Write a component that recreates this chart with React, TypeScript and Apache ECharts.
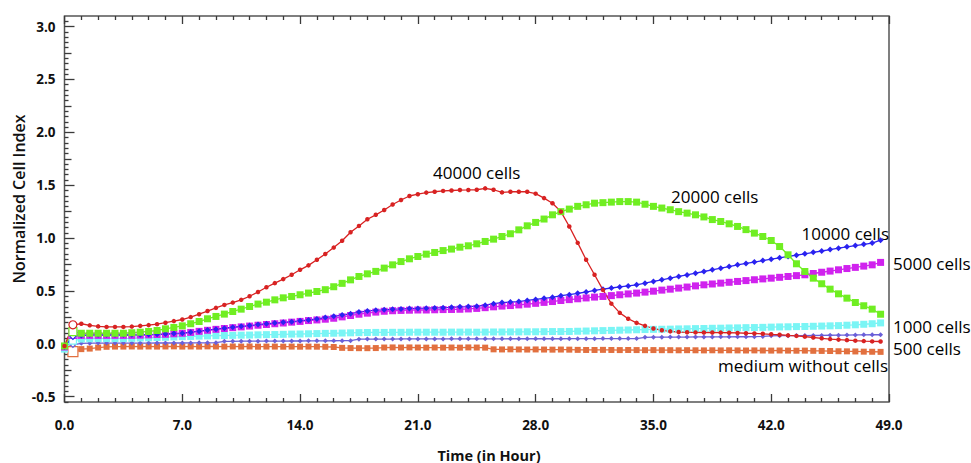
import React, { useEffect, useRef } from 'react';
import * as echarts from 'echarts';

const times = [
  0, 0.5, 1, 1.5, 2, 2.5, 3, 3.5, 4, 4.5,
  5, 5.5, 6, 6.5, 7, 7.5, 8, 8.5, 9, 9.5,
  10, 10.5, 11, 11.5, 12, 12.5, 13, 13.5, 14, 14.5,
  15, 15.5, 16, 16.5, 17, 17.5, 18, 18.5, 19, 19.5,
  20, 20.5, 21, 21.5, 22, 22.5, 23, 23.5, 24, 24.5,
  25, 25.5, 26, 26.5, 27, 27.5, 28, 28.5, 29, 29.5,
  30, 30.5, 31, 31.5, 32, 32.5, 33, 33.5, 34, 34.5,
  35, 35.5, 36, 36.5, 37, 37.5, 38, 38.5, 39, 39.5,
  40, 40.5, 41, 41.5, 42, 42.5, 43, 43.5, 44, 44.5,
  45, 45.5, 46, 46.5, 47, 47.5, 48, 48.5,
];

const cells40000 = [
  -0.02, 0.18, 0.19, 0.175, 0.165, 0.16, 0.16, 0.16, 0.163, 0.17,
  0.177, 0.186, 0.2, 0.215, 0.23, 0.253, 0.28, 0.31, 0.34, 0.368,
  0.39, 0.416, 0.45, 0.49, 0.535, 0.574, 0.612, 0.653, 0.7, 0.742,
  0.795, 0.85, 0.91, 0.975, 1.055, 1.115, 1.178, 1.22, 1.265, 1.318,
  1.36, 1.398, 1.415, 1.43, 1.438, 1.446, 1.45, 1.454, 1.455, 1.457,
  1.47, 1.457, 1.432, 1.438, 1.438, 1.438, 1.42, 1.378, 1.33, 1.25,
  1.11, 0.955, 0.795, 0.653, 0.51, 0.38, 0.293, 0.237, 0.198, 0.17,
  0.145, 0.128, 0.118, 0.112, 0.109, 0.108, 0.107, 0.107, 0.106, 0.105,
  0.103, 0.1, 0.098, 0.095, 0.09, 0.086, 0.08, 0.075, 0.068, 0.06,
  0.052, 0.045, 0.04, 0.035, 0.03, 0.026, 0.023, 0.022,
];

const cells20000 = [
  -0.02, 0.115, 0.1, 0.1, 0.1, 0.1, 0.1, 0.1, 0.105, 0.11,
  0.117, 0.126, 0.142, 0.155, 0.17, 0.19, 0.211, 0.237, 0.259, 0.281,
  0.306, 0.328, 0.353, 0.376, 0.394, 0.416, 0.435, 0.448, 0.464, 0.48,
  0.495, 0.512, 0.54, 0.572, 0.605, 0.637, 0.662, 0.685, 0.716, 0.747,
  0.778, 0.804, 0.826, 0.848, 0.864, 0.882, 0.896, 0.914, 0.927, 0.946,
  0.968, 0.99, 1.015, 1.041, 1.078, 1.116, 1.148, 1.18, 1.22, 1.25,
  1.274, 1.3, 1.315, 1.33, 1.335, 1.34, 1.345, 1.345, 1.34, 1.32,
  1.3, 1.284, 1.268, 1.25, 1.236, 1.22, 1.2, 1.175, 1.157, 1.135,
  1.11, 1.08, 1.047, 1.015, 0.977, 0.92, 0.842, 0.757, 0.684, 0.621,
  0.568, 0.517, 0.473, 0.432, 0.391, 0.36, 0.328, 0.28,
];

const cells10000 = [
  -0.03, 0.07, 0.08, 0.085, 0.085, 0.085, 0.085, 0.085, 0.085, 0.085,
  0.088, 0.09, 0.093, 0.097, 0.1, 0.11, 0.12, 0.13, 0.139, 0.148,
  0.158, 0.166, 0.173, 0.182, 0.19, 0.196, 0.203, 0.21, 0.218, 0.226,
  0.235, 0.248, 0.26, 0.272, 0.285, 0.3, 0.31, 0.318, 0.322, 0.328,
  0.33, 0.333, 0.335, 0.337, 0.34, 0.342, 0.345, 0.35, 0.352, 0.356,
  0.365, 0.38, 0.39, 0.395, 0.4, 0.41, 0.42, 0.43, 0.44, 0.455,
  0.465, 0.478, 0.49, 0.505, 0.517, 0.528, 0.538, 0.548, 0.558, 0.574,
  0.59, 0.605, 0.621, 0.637, 0.652, 0.668, 0.684, 0.7, 0.715, 0.731,
  0.747, 0.76, 0.773, 0.787, 0.8, 0.813, 0.826, 0.838, 0.851, 0.865,
  0.878, 0.891, 0.905, 0.917, 0.929, 0.941, 0.953, 0.98,
];

const cells5000 = [
  -0.03, 0.09, 0.08, 0.08, 0.08, 0.08, 0.08, 0.08, 0.08, 0.082,
  0.085, 0.088, 0.09, 0.095, 0.1, 0.108, 0.118, 0.128, 0.137, 0.145,
  0.153, 0.16, 0.168, 0.176, 0.183, 0.19, 0.197, 0.205, 0.212, 0.22,
  0.226, 0.233, 0.242, 0.255, 0.268, 0.28, 0.29, 0.3, 0.308, 0.313,
  0.316, 0.318, 0.32, 0.32, 0.322, 0.324, 0.325, 0.327, 0.33, 0.335,
  0.342, 0.35, 0.357, 0.362, 0.368, 0.375, 0.383, 0.392, 0.4, 0.41,
  0.418, 0.426, 0.434, 0.442, 0.448, 0.456, 0.464, 0.472, 0.48, 0.489,
  0.498, 0.508, 0.517, 0.527, 0.537, 0.548, 0.558, 0.566, 0.574, 0.582,
  0.59, 0.598, 0.606, 0.614, 0.621, 0.629, 0.637, 0.645, 0.653, 0.665,
  0.677, 0.688, 0.7, 0.712, 0.723, 0.735, 0.747, 0.77,
];

const cells1000 = [
  -0.05, 0.03, 0.045, 0.048, 0.05, 0.05, 0.05, 0.05, 0.052, 0.055,
  0.057, 0.06, 0.062, 0.065, 0.068, 0.07, 0.073, 0.075, 0.077, 0.079,
  0.08, 0.082, 0.083, 0.085, 0.087, 0.088, 0.09, 0.092, 0.093, 0.095,
  0.097, 0.099, 0.1, 0.102, 0.104, 0.106, 0.107, 0.108, 0.108, 0.109,
  0.109, 0.11, 0.11, 0.11, 0.11, 0.11, 0.111, 0.111, 0.111, 0.11,
  0.111, 0.112, 0.112, 0.113, 0.113, 0.114, 0.114, 0.115, 0.116, 0.116,
  0.117, 0.119, 0.121, 0.123, 0.125, 0.127, 0.129, 0.131, 0.133, 0.135,
  0.137, 0.138, 0.139, 0.141, 0.142, 0.144, 0.145, 0.147, 0.148, 0.15,
  0.151, 0.153, 0.154, 0.156, 0.158, 0.16, 0.161, 0.163, 0.164, 0.166,
  0.168, 0.17, 0.172, 0.176, 0.18, 0.185, 0.19, 0.198,
];

const cells500 = [
  -0.04, -0.01, 0.005, 0.006, 0.007, 0.007, 0.007, 0.007, 0.007, 0.007,
  0.007, 0.008, 0.008, 0.008, 0.008, 0.009, 0.01, 0.01, 0.011, 0.024,
  0.024, 0.025, 0.025, 0.025, 0.026, 0.026, 0.026, 0.027, 0.027, 0.028,
  0.028, 0.028, 0.029, 0.03, 0.03, 0.044, 0.045, 0.045, 0.045, 0.045,
  0.046, 0.046, 0.046, 0.046, 0.046, 0.046, 0.047, 0.047, 0.047, 0.047,
  0.047, 0.047, 0.047, 0.048, 0.048, 0.048, 0.048, 0.048, 0.048, 0.048,
  0.049, 0.049, 0.049, 0.049, 0.05, 0.05, 0.05, 0.05, 0.05, 0.062,
  0.063, 0.063, 0.064, 0.064, 0.064, 0.065, 0.065, 0.065, 0.066, 0.066,
  0.067, 0.067, 0.068, 0.07, 0.076, 0.077, 0.077, 0.078, 0.078, 0.079,
  0.08, 0.081, 0.082, 0.083, 0.084, 0.085, 0.086, 0.086,
];

const mediumOnly = [
  -0.03, -0.073, -0.05, -0.045, -0.035, -0.028, -0.026, -0.026, -0.025, -0.026,
  -0.025, -0.026, -0.025, -0.024, -0.026, -0.025, -0.026, -0.024, -0.025, -0.026,
  -0.025, -0.026, -0.025, -0.027, -0.026, -0.026, -0.027, -0.026, -0.027, -0.026,
  -0.027, -0.028, -0.03, -0.038, -0.04, -0.041, -0.041, -0.04, -0.035, -0.034,
  -0.035, -0.034, -0.035, -0.036, -0.035, -0.036, -0.035, -0.036, -0.034, -0.035,
  -0.036, -0.052, -0.053, -0.052, -0.053, -0.054, -0.053, -0.054, -0.055, -0.054,
  -0.055, -0.057, -0.058, -0.058, -0.057, -0.058, -0.059, -0.058, -0.059, -0.06,
  -0.059, -0.06, -0.06, -0.061, -0.06, -0.061, -0.062, -0.061, -0.062, -0.061,
  -0.062, -0.063, -0.062, -0.063, -0.064, -0.063, -0.064, -0.065, -0.064, -0.066,
  -0.067, -0.068, -0.07, -0.071, -0.072, -0.074, -0.075, -0.076,
];

const xTickValues = [0, 7, 14, 21, 28, 35, 42, 49];
const yLabelValues = [-0.5, 0, 0.5, 1, 1.5, 2, 2.5, 3];
const yMidValues = [-0.25, 0.25, 0.75, 1.25, 1.75, 2.25, 2.75];
const yMinorValues = [
  -0.55, -0.45, -0.4, -0.35, -0.3, -0.2, -0.15, -0.1, -0.05,
  0.05, 0.1, 0.15, 0.2, 0.3, 0.35, 0.4, 0.45,
  0.55, 0.6, 0.65, 0.7, 0.8, 0.85, 0.9, 0.95,
  1.05, 1.1, 1.15, 1.2, 1.3, 1.35, 1.4, 1.45,
  1.55, 1.6, 1.65, 1.7, 1.8, 1.85, 1.9, 1.95,
  2.05, 2.1, 2.15, 2.2, 2.3, 2.35, 2.4, 2.45,
  2.55, 2.6, 2.65, 2.7, 2.8, 2.85, 2.9, 2.95, 3.05,
];

const seriesDefs = [
  { name: 'medium without cells', values: mediumOnly, color: '#e2703f', symbol: 'rect', size: 6, hollow: 10 },
  { name: '500 cells', values: cells500, color: '#6a5fd8', symbol: 'diamond', size: 5, hollow: 5 },
  { name: '1000 cells', values: cells1000, color: '#7af5f5', symbol: 'rect', size: 7, hollow: 7 },
  { name: '5000 cells', values: cells5000, color: '#d022ee', symbol: 'rect', size: 7, hollow: 8 },
  { name: '10000 cells', values: cells10000, color: '#2a22f0', symbol: 'diamond', size: 6, hollow: 6 },
  { name: '20000 cells', values: cells20000, color: '#70ee22', symbol: 'rect', size: 7, hollow: 8 },
  { name: '40000 cells', values: cells40000, color: '#d82222', symbol: 'circle', size: 4.5, hollow: 8 },
];

const FONT = '"Open Sans", "DejaVu Sans", sans-serif';

export default function App() {
  const ref = useRef<HTMLDivElement>(null);

  useEffect(() => {
    const chart = echarts.init(ref.current as HTMLDivElement, null, { renderer: 'svg' });

    const series = seriesDefs.map((s) => ({
      type: 'line',
      name: s.name,
      xAxisIndex: 0,
      yAxisIndex: 0,
      symbol: s.symbol,
      symbolSize: s.size,
      showAllSymbol: true,
      lineStyle: { color: s.color, width: 1.3 },
      itemStyle: { color: s.color },
      data: times.map((t, i) => {
        if (i === 1) {
          return {
            value: [t, s.values[i]],
            symbolSize: s.hollow,
            itemStyle: { color: '#ffffff', borderColor: s.color, borderWidth: 1.2 },
          };
        }
        return [t, s.values[i]];
      }),
    }));

    const tickLine = { color: '#3a3a3a', width: 1.3 };

    const yBase = {
      type: 'value',
      min: -0.55,
      max: 3.1,
      gridIndex: 0,
      position: 'left',
      axisLine: { show: false, onZero: false },
      splitLine: { show: false },
    };

    const xBase = {
      type: 'value',
      min: 0,
      max: 49,
      interval: 7,
      gridIndex: 0,
      axisLine: { show: false, onZero: false },
      splitLine: { show: false },
      axisTick: { show: true, inside: true, length: 8, lineStyle: tickLine },
      minorTick: { show: true, splitNumber: 7, length: 4, lineStyle: tickLine },
    };

    const option = {
      animation: false,
      backgroundColor: '#ffffff',
      grid: {
        left: 64.5,
        right: 82,
        top: 16,
        bottom: 61,
        show: true,
        borderColor: '#555555',
        borderWidth: 1.5,
        backgroundColor: 'transparent',
      },
      xAxis: [
        {
          ...xBase,
          position: 'bottom',
          axisLabel: {
            show: true,
            margin: 16,
            color: '#111',
            fontFamily: FONT,
            fontWeight: 'bold',
            fontSize: 13.5,
            formatter: (v: number) => v.toFixed(1),
            customValues: xTickValues,
          },
        },
        {
          ...xBase,
          position: 'top',
          axisLabel: { show: false },
        },
      ],
      yAxis: [
        {
          ...yBase,
          axisTick: { show: true, inside: true, length: 10, customValues: yLabelValues, lineStyle: tickLine },
          axisLabel: {
            show: true,
            margin: 9,
            color: '#111',
            fontFamily: FONT,
            fontWeight: 'bold',
            fontSize: 13.5,
            customValues: yLabelValues,
            formatter: (v: number) => v.toFixed(1),
          },
        },
        {
          ...yBase,
          axisTick: { show: true, inside: true, length: 7, customValues: yMidValues, lineStyle: tickLine },
          axisLabel: { show: false },
        },
        {
          ...yBase,
          axisTick: { show: true, inside: true, length: 4, customValues: yMinorValues, lineStyle: tickLine },
          axisLabel: { show: false },
        },
      ],
      series,
      graphic: [
        {
          type: 'text',
          x: 19,
          y: 199,
          rotation: Math.PI / 2,
          style: {
            text: 'Normalized Cell Index',
            fill: '#111',
            fontFamily: FONT,
            fontWeight: 600,
            fontSize: 16,
            textAlign: 'center',
            textVerticalAlign: 'middle',
          },
        },
        {
          type: 'text',
          x: 489,
          y: 455,
          style: {
            text: 'Time (in Hour)',
            fill: '#111',
            fontFamily: FONT,
            fontWeight: 'bold',
            fontSize: 14.5,
            textAlign: 'center',
            textVerticalAlign: 'middle',
          },
        },
        ...[
          { text: '40000 cells', x: 433, y: 172, align: 'left' },
          { text: '20000 cells', x: 671, y: 196, align: 'left' },
          { text: '10000 cells', x: 889, y: 233, align: 'right' },
          { text: '5000 cells', x: 893, y: 263, align: 'left' },
          { text: '1000 cells', x: 893, y: 326, align: 'left' },
          { text: '500 cells', x: 893, y: 348, align: 'left' },
          { text: 'medium without cells', x: 888, y: 365, align: 'right' },
        ].map((l) => ({
          type: 'text',
          x: l.x,
          y: l.y,
          style: {
            text: l.text,
            fill: '#000',
            fontFamily: FONT,
            fontSize: 17,
            textAlign: l.align,
            textVerticalAlign: 'middle',
          },
        })),
      ],
    };

    chart.setOption(option as any);
    return () => chart.dispose();
  }, []);

  return (
    <div
      ref={ref}
      style={{ position: 'fixed', left: 0, top: 0, width: 971, height: 463, background: '#fff' }}
    />
  );
}
